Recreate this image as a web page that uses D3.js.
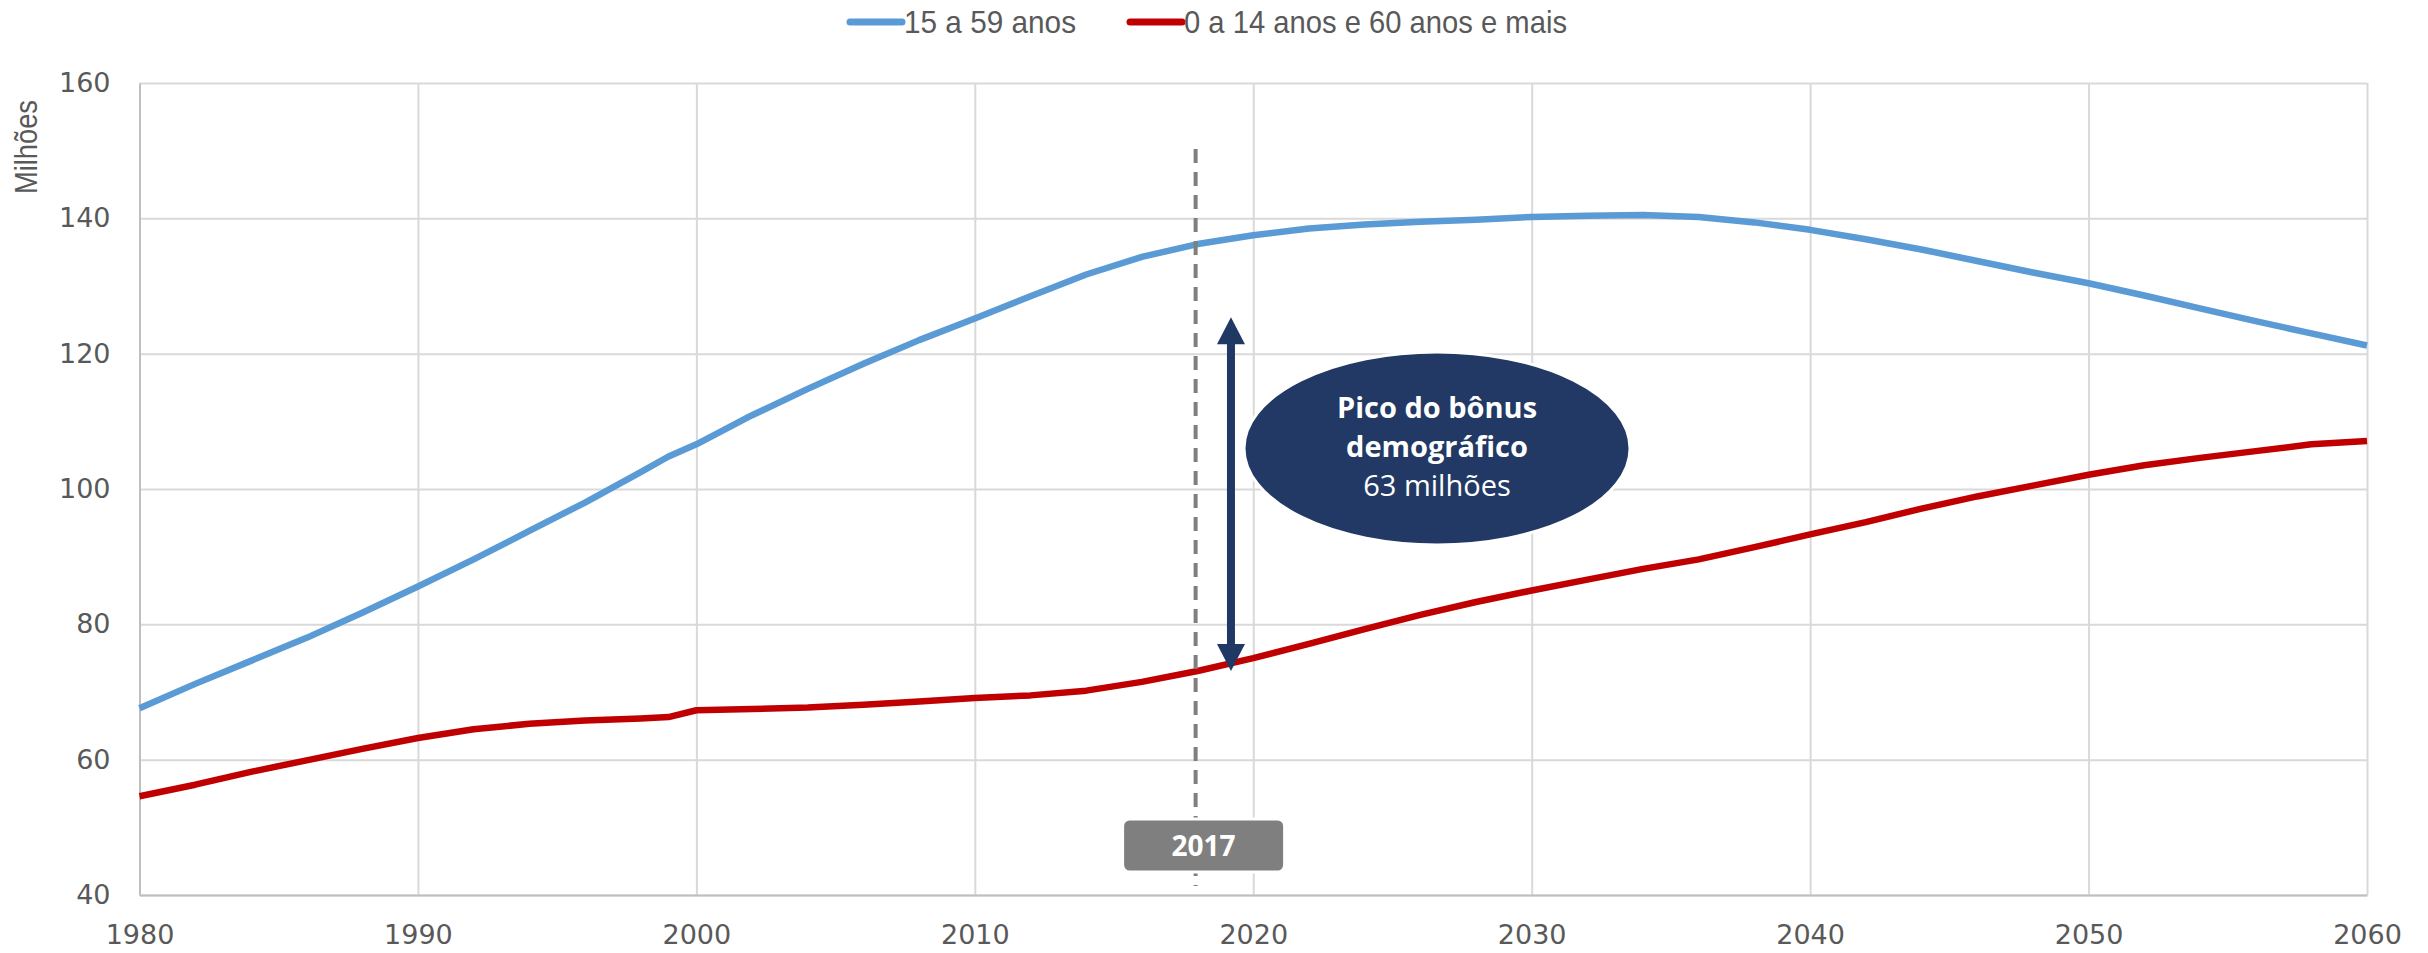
<!DOCTYPE html>
<html><head><meta charset="utf-8">
<script src="https://cdn.jsdelivr.net/npm/d3@7"></script>
<style>
html,body{margin:0;padding:0;background:#fff;}
svg{display:block;}
</style></head>
<body>
<script>
// ---- data ----
const years = [1980,1982,1984,1986,1988,1990,1992,1994,1996,1998,1999,2000,2002,2004,2006,2008,2010,2012,2014,2016,2018,2020,2022,2024,2026,2028,2030,2032,2034,2036,2038,2040,2042,2044,2046,2048,2050,2052,2054,2056,2058,2060];
const working = [67.6,71.2,74.6,78.0,81.7,85.6,89.6,93.8,98.0,102.5,104.8,106.6,110.9,114.8,118.5,122.0,125.2,128.5,131.7,134.3,136.2,137.5,138.5,139.1,139.5,139.8,140.2,140.4,140.5,140.2,139.4,138.3,136.9,135.4,133.7,132.0,130.4,128.6,126.7,124.8,123.0,121.2];
const dependent = [54.6,56.3,58.2,59.9,61.6,63.2,64.5,65.3,65.8,66.1,66.3,67.3,67.5,67.7,68.1,68.6,69.1,69.5,70.2,71.5,73.1,75.0,77.1,79.3,81.4,83.3,85.0,86.6,88.2,89.6,91.4,93.3,95.1,97.1,98.9,100.5,102.1,103.5,104.6,105.6,106.6,107.1];
const seriesNames = ["15 a 59 anos","0 a 14 anos e 60 anos e mais"];
const seriesColors = ["#5B9BD5","#C00000"];
const xTicks = [1980,1990,2000,2010,2020,2030,2040,2050,2060];
const yTicks = [40,60,80,100,120,140,160];
const yTitle = "Milhões";
const markerLabel = "2017";
const markerX = 2017.93;          // dashed marker position on the year axis
const arrowX = 2019.2, arrowTop = 125.4, arrowBottom = 73.1;
const bubbleX = 2026.6, bubbleY = 106.0;
const bubbleLines = [["Pico do bônus",true],["demográfico",true],["63 milhões",false]];

(function(){
// ---- layout ----
const W = 2428, H = 953;
const pL = 139.5, pR = 2367, pT = 83, pB = 895;
const svg = d3.select("body").append("svg").attr("width",W).attr("height",H);
const x = d3.scaleLinear().domain([1980,2060]).range([pL,pR]);
const y = d3.scaleLinear().domain([40,160]).range([pB,pT]);
const txt = "#595959";
const narrow = "Liberation Sans Narrow, Arial Narrow, Liberation Sans, sans-serif";

// gridlines
svg.append("g").attr("transform",`translate(0,${pB})`)
  .call(d3.axisBottom(x).tickValues(xTicks).tickSize(-(pB-pT)).tickFormat(""))
  .call(g=>g.select(".domain").remove())
  .call(g=>g.selectAll("line").attr("stroke","#D9D9D9").attr("stroke-width",2));
svg.append("g").attr("transform",`translate(${pL},0)`)
  .call(d3.axisLeft(y).tickValues(yTicks).tickSize(-(pR-pL)).tickFormat(""))
  .call(g=>g.select(".domain").remove())
  .call(g=>g.selectAll("line").attr("stroke","#D9D9D9").attr("stroke-width",2));

// axes
const ax = svg.append("g").attr("transform",`translate(0,${pB})`)
  .call(d3.axisBottom(x).tickValues(xTicks).tickSize(0).tickPadding(0).tickFormat(d3.format("d")));
ax.select(".domain").attr("stroke","#BFBFBF").attr("stroke-width",2);
ax.selectAll("text").attr("font-family","DejaVu Sans").attr("font-size",27).attr("fill",txt)
  .attr("dy",null).attr("y",49);
const ay = svg.append("g").attr("transform",`translate(${pL},0)`)
  .call(d3.axisLeft(y).tickValues(yTicks).tickSize(0).tickPadding(29));
ay.select(".domain").attr("stroke","#BFBFBF").attr("stroke-width",2);
ay.selectAll("text").attr("font-family","DejaVu Sans").attr("font-size",27).attr("fill",txt);

svg.append("text").attr("transform",`translate(37,147) rotate(-90)`)
  .attr("text-anchor","middle").attr("font-family",narrow)
  .attr("font-size",31).attr("fill",txt)
  .attr("textLength",94).attr("lengthAdjust","spacingAndGlyphs").text(yTitle);

// lines
const line = d3.line().x((d,i)=>x(years[i])).y(d=>y(d));
[working,dependent].forEach((s,k)=>{
  svg.append("path").datum(s).attr("d",line).attr("fill","none")
    .attr("stroke",seriesColors[k]).attr("stroke-width",6.5)
    .attr("stroke-linejoin","round").attr("stroke-linecap","butt");
});

// legend
const legX = [847,1127];
const legLen = [172,383];
seriesNames.forEach((n,k)=>{
  const g = svg.append("g").attr("transform",`translate(${legX[k]},22)`);
  g.append("line").attr("x1",3).attr("x2",55).attr("y1",0).attr("y2",0)
    .attr("stroke",seriesColors[k]).attr("stroke-width",7).attr("stroke-linecap","round");
  g.append("text").attr("x",57).attr("y",11).attr("font-family",narrow)
    .attr("font-size",32).attr("fill",txt)
    .attr("textLength",legLen[k]).attr("lengthAdjust","spacingAndGlyphs").text(n);
});

// dashed marker
const mx = x(markerX);
svg.append("line").attr("x1",mx).attr("x2",mx).attr("y1",149).attr("y2",886)
  .attr("stroke","#7F7F7F").attr("stroke-width",4).attr("stroke-dasharray","14,9");
svg.append("rect").attr("x",mx-73).attr("y",819).attr("width",162).attr("height",53).attr("rx",7)
  .attr("fill","#7F7F7F").attr("stroke","#fff").attr("stroke-width",3);
svg.append("text").attr("x",mx+8).attr("y",856).attr("text-anchor","middle")
  .attr("font-family","Open Sans").attr("font-weight","bold").attr("font-size",28).attr("fill","#fff").text(markerLabel);

// double arrow
const ac = "#203864";
const axp = x(arrowX), at = y(arrowTop), ab = y(arrowBottom), hl = 27, hw = 14;
svg.append("line").attr("x1",axp).attr("x2",axp).attr("y1",at+hl-2).attr("y2",ab-hl+2)
  .attr("stroke",ac).attr("stroke-width",8);
svg.append("path").attr("d",`M${axp},${at} L${axp+hw},${at+hl} L${axp-hw},${at+hl} Z`).attr("fill",ac);
svg.append("path").attr("d",`M${axp},${ab} L${axp+hw},${ab-hl} L${axp-hw},${ab-hl} Z`).attr("fill",ac);

// bubble
const bx = x(bubbleX), by = y(bubbleY);
svg.append("ellipse").attr("cx",bx).attr("cy",by).attr("rx",193).attr("ry",96.5)
  .attr("fill","#213964").attr("stroke","#fff").attr("stroke-width",3);
bubbleLines.forEach((l,i)=>{
  svg.append("text").attr("x",bx).attr("y",by-30+i*38.7).attr("text-anchor","middle")
    .attr("font-family","Open Sans").attr("font-weight",l[1]?"bold":"normal")
    .attr("font-size",29).attr("fill","#fff").text(l[0]);
});
})();
</script>
</body></html>
